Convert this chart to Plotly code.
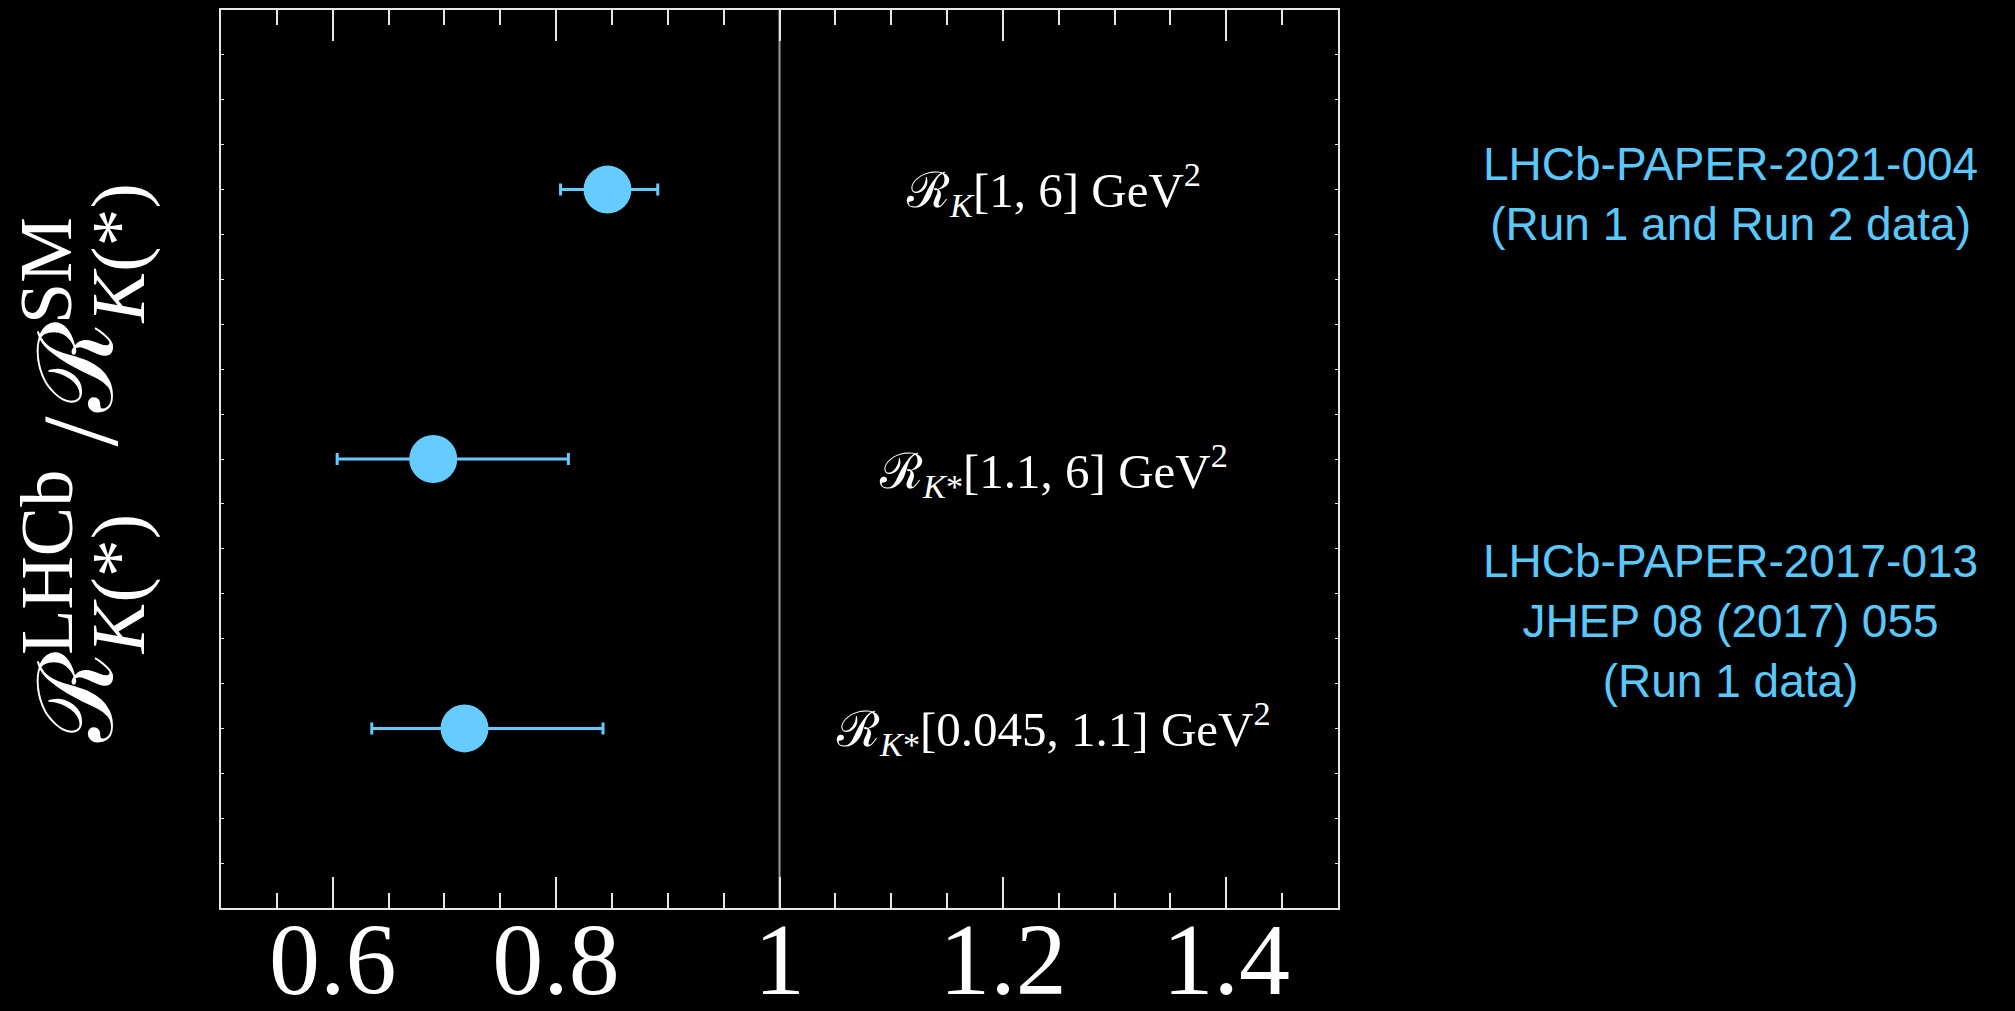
import plotly.graph_objects as go

# ---- data ----
measurements = ["ℛ<sub><i>K</i></sub>[1, 6] GeV<sup>2</sup>",
                "ℛ<sub><i>K</i>*</sub>[1.1, 6] GeV<sup>2</sup>",
                "ℛ<sub><i>K</i>*</sub>[0.045, 1.1] GeV<sup>2</sup>"]
ratio = [0.846, 0.690, 0.718]
err_up = [0.045, 0.121, 0.124]
err_down = [0.042, 0.086, 0.083]
row = [0.8, 0.5, 0.2]
sources = ["LHCb-PAPER-2021-004<br>(Run 1 and Run 2 data)",
           "LHCb-PAPER-2017-013<br>JHEP 08 (2017) 055<br>(Run 1 data)"]
source_row = [0.795, 0.32]
tick_vals = [0.6, 0.8, 1.0, 1.2, 1.4]
tick_text = ["0.6", "0.8", "1", "1.2", "1.4"]
sm_value = 1.0

W, H = 2015, 1011
L, R, T, B = 220.5, 2015 - 1338.5, 10, 1011 - 908.5
PW, PH = W - L - R, H - T - B

def px(x):
    return (x - L) / PW

def py(y):
    return (H - B - y) / PH

BLUE = "#66CCFF"
TEXTBLUE = "#5AC8FA"
SERIF = "Liberation Serif, DejaVu Serif, serif"
SANS = "Liberation Sans, Arial, sans-serif"
AXC = "#e6e6e6"

fig = go.Figure()
fig.add_trace(go.Scatter(
    x=ratio, y=row, mode="markers",
    marker=dict(size=48, color=BLUE, line=dict(width=0)),
    error_x=dict(type="data", symmetric=False, array=err_up, arrayminus=err_down,
                 color=BLUE, thickness=3, width=6),
    showlegend=False, hoverinfo="skip"))

fig.add_shape(type="line", x0=sm_value, x1=sm_value, xref="x", y0=0, y1=1, yref="paper",
              line=dict(color="#9a9a9a", width=2), layer="below")

ann = []
label_shift = [0, -11, 0]
for m, yv, s in zip(measurements, row, label_shift):
    ann.append(dict(x=1.245, y=yv, xref="x", yref="y", text=m, showarrow=False,
                    yshift=s, font=dict(family=SERIF, size=49, color="white"),
                    xanchor="center", yanchor="middle"))
for s, yv in zip(sources, source_row):
    ann.append(dict(x=px(1731), y=yv, xref="paper", yref="paper", text=s, showarrow=False,
                    font=dict(family=SANS, size=46, color=TEXTBLUE),
                    xanchor="center", yanchor="middle", align="center"))

# y-axis title built from pieces (stacked super/subscripts)
def tpiece(text, xc, y, size, yanchor):
    return dict(x=px(xc), y=py(y), xref="paper", yref="paper", text=text, showarrow=False,
                textangle=-90, font=dict(family=SERIF, size=size, color="white"),
                xanchor="center", yanchor=yanchor, borderpad=0)

ann += [
    tpiece("ℛ", 76, 698, 104, "middle"),
    tpiece("LHCb", 46, 656, 74, "bottom"),
    tpiece("<i>K</i>(*)", 118, 656, 76, "bottom"),
    tpiece("/", 80, 432, 108, "middle"),
    tpiece("ℛ", 76, 368, 104, "middle"),
    tpiece("SM", 46, 325, 74, "bottom"),
    tpiece("<i>K</i>(*)", 118, 325, 76, "bottom"),
]

fig.update_layout(
    width=W, height=H,
    margin=dict(l=L, r=R, t=T, b=B, pad=0),
    paper_bgcolor="black", plot_bgcolor="black",
    annotations=ann,
    xaxis=dict(range=[0.5, 1.5], tickvals=tick_vals, ticktext=tick_text,
               ticks="inside", ticklen=31, tickwidth=2, tickcolor=AXC,
               ticklabelstandoff=-38,
               minor=dict(dtick=0.05, tick0=0.5, ticks="inside", ticklen=15,
                          tickwidth=2, tickcolor=AXC, showgrid=False),
               showline=True, linecolor=AXC, linewidth=2, mirror="ticks",
               showgrid=False, zeroline=False, automargin=False,
               tickfont=dict(family=SERIF, size=102, color="white")),
    yaxis=dict(range=[0, 1], dtick=0.05, ticks="inside", ticklen=3, tickwidth=1,
               tickcolor=AXC, showticklabels=False,
               showline=True, linecolor=AXC, linewidth=2, mirror="ticks",
               showgrid=False, zeroline=False, automargin=False),
)

fig.write_html("out.html")
